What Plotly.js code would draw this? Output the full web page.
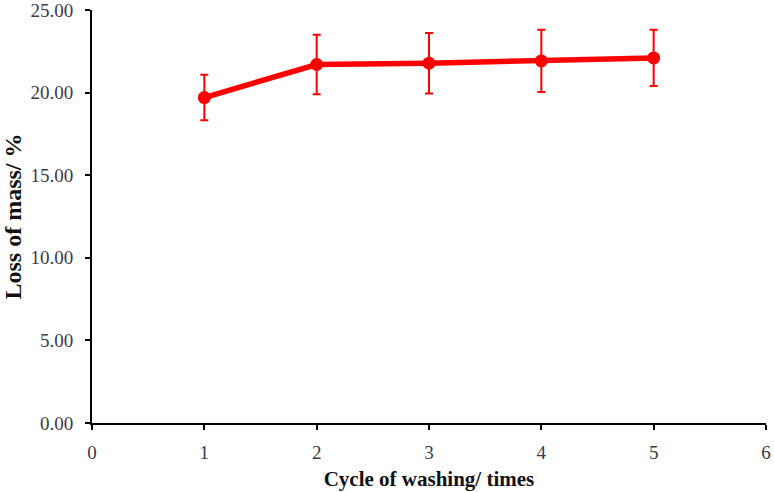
<!DOCTYPE html>
<html>
<head>
<meta charset="utf-8">
<script src="https://cdn.plot.ly/plotly-3.0.1.min.js"></script>
<style>html,body{margin:0;padding:0;background:#fff;}#chart{width:774px;height:492px;}</style>
</head>
<body>
<div id="chart"></div>
<script>
const cycles = [1, 2, 3, 4, 5];
const lossOfMass = [19.7, 21.7, 21.78, 21.92, 22.1];
const errorValues = [1.38, 1.8, 1.83, 1.88, 1.7];
const xTickVals = [0, 1, 2, 3, 4, 5, 6];
const yTickVals = [0, 5, 10, 15, 20, 25];

const trace = {
  x: cycles,
  y: lossOfMass,
  type: 'scatter',
  mode: 'lines+markers',
  line: {color: '#ff0000', width: 5.5},
  marker: {color: '#ff0000', size: 13},
  error_y: {type: 'data', array: errorValues, visible: true, color: '#ff0000', thickness: 2, width: 4},
  showlegend: false
};

const fam = '"Liberation Serif", "Times New Roman", serif';
const tickFont = {family: fam, size: 19, color: '#3a3a4c'};

const layout = {
  width: 774, height: 492,
  margin: {l: 92, r: 8, t: 10, b: 69},
  paper_bgcolor: '#fff', plot_bgcolor: '#fff',
  font: tickFont,
  xaxis: {
    range: [0, 6], tickvals: xTickVals, ticks: 'outside', ticklen: 5, tickwidth: 2, tickcolor: '#000',
    showline: true, linecolor: '#000', linewidth: 2, showgrid: false, zeroline: false,
    tickfont: tickFont, ticklabelstandoff: 6, ticklabeloverflow: 'allow',
    title: {text: '<b>Cycle of washing/ times</b>', font: {family: fam, size: 21, color: '#111'}, standoff: 10}
  },
  yaxis: {
    range: [0, 25], tickvals: yTickVals, tickformat: '.2f', ticks: 'outside', ticklen: 5, tickwidth: 2, tickcolor: '#000',
    showline: true, linecolor: '#000', linewidth: 2, showgrid: false, zeroline: false,
    tickfont: tickFont, ticklabelstandoff: 8, ticklabeloverflow: 'allow',
    title: {text: '<b>Loss of mass/ %</b>', font: {family: fam, size: 24, color: '#111'}, standoff: 3}
  }
};

Plotly.newPlot('chart', [trace], layout, {displayModeBar: false, staticPlot: true});
</script>
</body>
</html>
